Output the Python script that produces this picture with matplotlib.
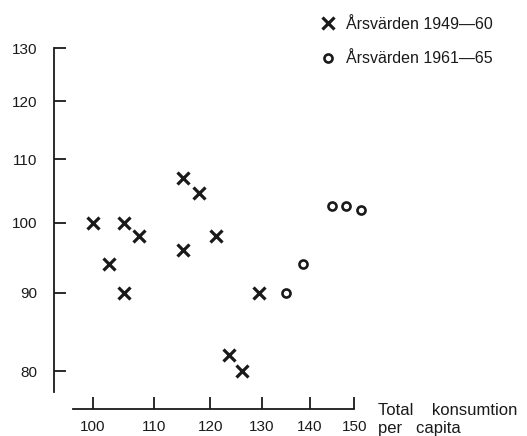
import matplotlib
matplotlib.use("Agg")
import matplotlib.pyplot as plt
from matplotlib.ticker import NullLocator, NullFormatter, FixedLocator, FixedFormatter

plt.rcParams['font.family'] = ['Liberation Sans', 'DejaVu Sans']

# Årsvärden 1949-60
x_old = [100, 105, 107.5, 115, 102.5, 105, 115, 118, 121, 123.5, 126, 129.5]
y_old = [100, 100, 98, 96, 94, 90, 107, 104.5, 98, 82, 80, 90]
# Årsvärden 1961-65
x_new = [135, 138.5, 145, 148, 151.5]
y_new = [90, 94, 102.5, 102.5, 102]

x_ticks = [100, 110, 120, 130, 140, 150]
y_ticks = [80, 90, 100, 110, 120, 130]
label_old = "Årsvärden 1949—60"
label_new = "Årsvärden 1961—65"

ink = '#1a1a1a'
W, H = 527, 436
fig = plt.figure(figsize=(W / 100, H / 100), dpi=100)
left, right, bottom, top = 54, 400, 409, 40
ax = fig.add_axes([left / W, 1 - bottom / H, (right - left) / W, (bottom - top) / H])
ax.set_xscale('log')
ax.set_yscale('log')

ax.plot(x_old, y_old, linestyle='none', marker='x', markersize=8,
        markeredgewidth=2.3, color=ink, label=label_old)
ax.plot(x_new, y_new, linestyle='none', marker='o', markersize=5.8,
        markeredgewidth=1.9, markerfacecolor='none', color=ink, label=label_new)

ax.set_xlim(94.2, 161)
ax.set_ylim(75.6, 131.6)

for s in ['top', 'right']:
    ax.spines[s].set_visible(False)
for s in ['left', 'bottom']:
    ax.spines[s].set_linewidth(1.3)
    ax.spines[s].set_color(ink)
ax.spines['left'].set_bounds(77.5, 130)
ax.spines['bottom'].set_bounds(97, 150)

for axis, ticks in [(ax.xaxis, x_ticks), (ax.yaxis, y_ticks)]:
    axis.set_major_locator(FixedLocator(ticks))
    axis.set_major_formatter(FixedFormatter([str(t) for t in ticks]))
    axis.set_minor_locator(NullLocator())
    axis.set_minor_formatter(NullFormatter())

ax.tick_params(axis='both', direction='in', length=8.5, width=1.3, color=ink,
               labelsize=11, labelcolor=ink)
ax.tick_params(axis='y', pad=12)
ax.tick_params(axis='x', pad=8)

fig.text(378 / W, 1 - 410 / H, "Total    konsumtion", ha='left', va='center',
         fontsize=12, color=ink)
fig.text(378 / W, 1 - 428 / H, "per   capita", ha='left', va='center',
         fontsize=12, color=ink)

ax.legend(loc='upper left', bbox_to_anchor=(314 / W, 1 - 9 / H),
          bbox_transform=fig.transFigure, frameon=False, fontsize=11.5,
          handlelength=0.8, handletextpad=0.7, labelspacing=1.2,
          borderpad=0, labelcolor=ink)

fig.savefig("out.png", dpi=100)
